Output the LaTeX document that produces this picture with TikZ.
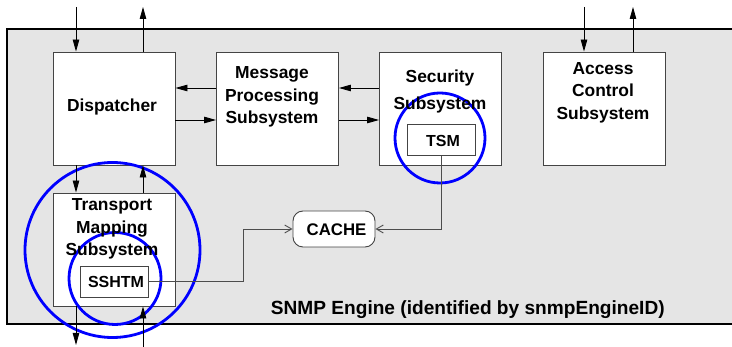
\documentclass[tikz,border=0pt]{standalone}
\usepackage{fontspec}
\setmainfont{Liberation Sans}
\usetikzlibrary{arrows.meta,calc}
\definecolor{framegray}{HTML}{E5E5E5}
\definecolor{boxline}{HTML}{444444}
\begin{document}
\begin{tikzpicture}[x=1pt,y=-1pt,
  box/.style={draw=boxline, line width=0.9pt, fill=white, minimum width=122pt, minimum height=113pt, inner sep=0pt},
  smallbox/.style={draw=boxline, line width=0.9pt, fill=white, minimum width=68pt, minimum height=31pt, inner sep=0pt},
  lbl/.style={font=\bfseries\fontsize{17.4}{22.5}\selectfont, align=center, anchor=base, inner sep=0pt},
  slbl/.style={font=\bfseries\fontsize{16}{19}\selectfont, anchor=base, inner sep=0pt},
  arr/.style={draw=black, line width=0.85pt, -{Triangle[length=12pt,width=6.5pt]}},
  carr/.style={draw=black!70, line width=0.9pt, -{Straight Barb[length=7pt,width=8pt]}},
  ring/.style={draw=blue, line width=2.8pt, circle, inner sep=0pt}]
\useasboundingbox (0,0) rectangle (732,347);
\clip (0,0) rectangle (732,347);
% engine frame
\draw[line width=1.2pt, fill=framegray] (7,29) rectangle (760,324);
% boxes
\node[box] (disp) at (114,108.5) {};
\node[box] (mps) at (277.5,108.5) {};
\node[box] (sec) at (440.5,108.5) {};
\node[box] (acc) at (604,108.5) {};
\node[box] (trans) at (114,249.5) {};
\node[smallbox] (tsm) at (441,140) {};
\node[smallbox] (sshtm) at (114,281.5) {};
\node[draw=boxline, line width=0.9pt, fill=white, rounded corners=10pt, minimum width=82pt, minimum height=36pt, inner sep=0pt] (cache) at (334,229) {};
% blue rings
\node[ring, minimum size=90pt] (ring1) at (440,138) {};
\node[ring, minimum size=175pt] (ring2) at (112.5,250) {};
\node[ring, minimum size=92pt] (ring3) at (115,278.5) {};
% labels (anchor = baseline of last line)
\node[lbl] (tdisp) at (112,112) {Dispatcher};
\node[lbl] (tmps) at (272,124) {Message\\Processing\\Subsystem};
\node[lbl, font=\bfseries\fontsize{17.4}{27}\selectfont] (tsec) at (440,110) {Security\\Subsystem};
\node[lbl] (tacc) at (603,119.5) {Access\\Control\\Subsystem};
\node[lbl] (ttrans) at (112,256) {Transport\\Mapping\\Subsystem};
\node[slbl] (ttsm) at (443,147) {TSM};
\node[slbl] (tsshtm) at (116,288) {SSHTM};
\node[slbl, font=\bfseries\fontsize{16.8}{20}\selectfont] (tcache) at (336.5,236) {CACHE};
\node[lbl, font=\bfseries\fontsize{19.1}{23}\selectfont] (teng) at (467.8,315) {SNMP Engine (identified by snmpEngineID)};
% coordinates
\coordinate (xa) at (76,0);
\coordinate (xb) at (143,0);
\coordinate (xc) at (584,0);
\coordinate (xd) at (633,0);
\coordinate (ya) at (0,88);
\coordinate (yb) at (0,120);
\coordinate (topl) at (0,7);
\coordinate (botl) at (0,345);
\coordinate (botm) at (0,347);
% top arrows
\draw[arr] (xa |- topl) -- (xa |- disp.north);
\draw[arr] (xb |- disp.north) -- (xb |- topl);
\draw[arr] (xc |- topl) -- (xc |- acc.north);
\draw[arr] (xd |- acc.north) -- (xd |- topl);
% horizontal arrows
\draw[arr] (mps.west |- ya) -- (disp.east |- ya);
\draw[arr] (disp.east |- yb) -- (mps.west |- yb);
\draw[arr] (sec.west |- ya) -- (mps.east |- ya);
\draw[arr] (mps.east |- yb) -- (sec.west |- yb);
% dispatcher <-> transport
\draw[arr] (xa |- disp.south) -- (xa |- trans.north);
\draw[arr] (xb |- trans.north) -- (xb |- disp.south);
% bottom arrows
\draw[arr] (xa |- trans.south) -- (xa |- botl);
\draw[arr] (xb |- botm) -- (xb |- trans.south);
% cache connectors
\draw[carr] (sshtm.east) -- ++(95,0) |- (cache.west);
\draw[carr] (tsm.south) |- (cache.east);
\end{tikzpicture}
\end{document}
